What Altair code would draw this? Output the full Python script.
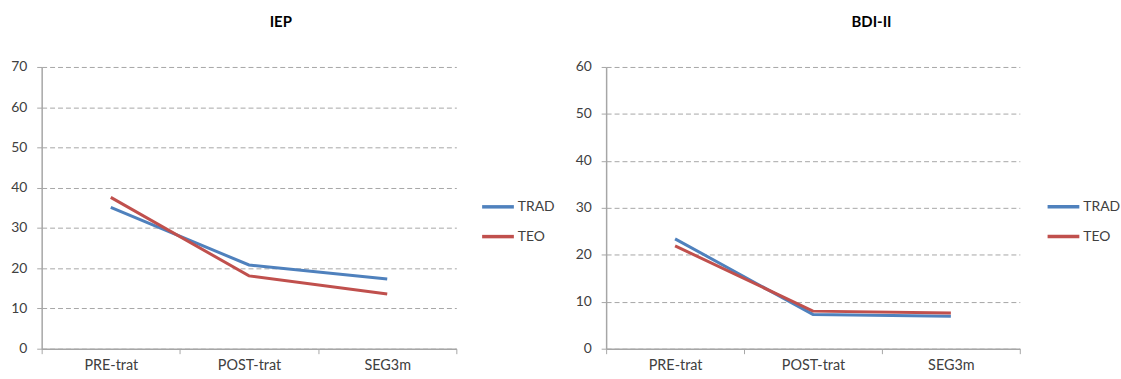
import json
import altair as alt
import pandas as pd

# Measurement stages and group means
categories = ["PRE-trat", "POST-trat", "SEG3m"]
series_names = ["TRAD", "TEO"]
series_colors = ["#4F81BD", "#C0504D"]

iep_trad = [35.1, 20.8, 17.3]
iep_teo = [37.6, 18.1, 13.6]

bdi_trad = [23.4, 7.3, 6.9]
bdi_teo = [21.9, 8.0, 7.6]

FONT = "Lato"
TEXT = "#404040"
AXIS_GREY = "#A6A6A6"


def long_table(trad, teo):
    rows = []
    for name, vals in zip(series_names, [trad, teo]):
        for i, (cat, v) in enumerate(zip(categories, vals)):
            rows.append({"pos": i + 0.5, "etapa": cat, "grupo": name, "valor": v})
    return pd.DataFrame(rows)


# category labels sit at band centres, tick marks at band edges
label_expr = (
    "datum.value % 1 == 0 ? '' : "
    + json.dumps(categories).replace('"', "'")
    + "[floor(datum.value)]"
)
n = len(categories)
x_values = [i / 2 for i in range(2 * n + 1)]


def panel(df, title, ymax, dx, width, legend_gap):
    x = alt.X(
        "pos:Q",
        scale=alt.Scale(domain=[0, n], nice=False, zero=False),
        axis=alt.Axis(
            values=x_values,
            labelExpr=label_expr,
            tickOpacity={"condition": {"test": "datum.value % 1 == 0", "value": 1}, "value": 0},
            tickSize=5,
            labelPadding=5,
            labelFontSize=14.5,
            labelOverlap=False,
            labelFlush=False,
            grid=False,
            title=None,
        ),
    )
    y = alt.Y(
        "valor:Q",
        scale=alt.Scale(domain=[0, ymax], nice=False),
        axis=alt.Axis(
            values=list(range(0, ymax + 1, 10)),
            grid=True,
            gridDash=[5, 3],
            gridColor="#A6A6A6",
            gridWidth=1,
            tickSize=5,
            labelPadding=10,
            labelFontSize=14,
            title=None,
        ),
    )
    color = alt.Color(
        "grupo:N",
        scale=alt.Scale(domain=series_names, range=series_colors),
        legend=alt.Legend(
            orient="none",
            legendX=width + legend_gap,
            legendY=123,
            title=None,
            padding=0,
            symbolType="stroke",
            symbolSize=1024,
            symbolStrokeWidth=3.5,
            labelFontSize=14,
            labelColor=TEXT,
            labelFont=FONT,
            labelOffset=2,
            rowPadding=5,
        ),
    )
    layers = [
        alt.Chart(df)
        .transform_filter(alt.datum.grupo == name)
        .mark_line(strokeWidth=3)
        .encode(x=x, y=y, color=color)
        for name in series_names
    ]
    return alt.layer(*layers).properties(
        width=width,
        height=284,
        title=alt.TitleParams(
            title, fontSize=15, fontWeight="bold", font=FONT, color="#000000",
            dx=dx, offset=30,
        ),
    )


left = panel(long_table(iep_trad, iep_teo), "IEP", 70, 32, 418, 24)
right = panel(long_table(bdi_trad, bdi_teo), "BDI-II", 60, 59, 417, 26)

chart = (
    alt.hconcat(left, right, spacing=19)
    .resolve_legend(color="independent")
    .properties(
        padding={"left": 10, "top": 14, "right": 0, "bottom": 0},
        background="white",
    )
    .configure_view(stroke=None)
    .configure_axis(
        labelFont=FONT,
        labelColor=TEXT,
        domainColor=AXIS_GREY,
        tickColor=AXIS_GREY,
        domainWidth=1.5,
    )
)

chart.save("out.html", embed_options={"renderer": "svg", "actions": False})
